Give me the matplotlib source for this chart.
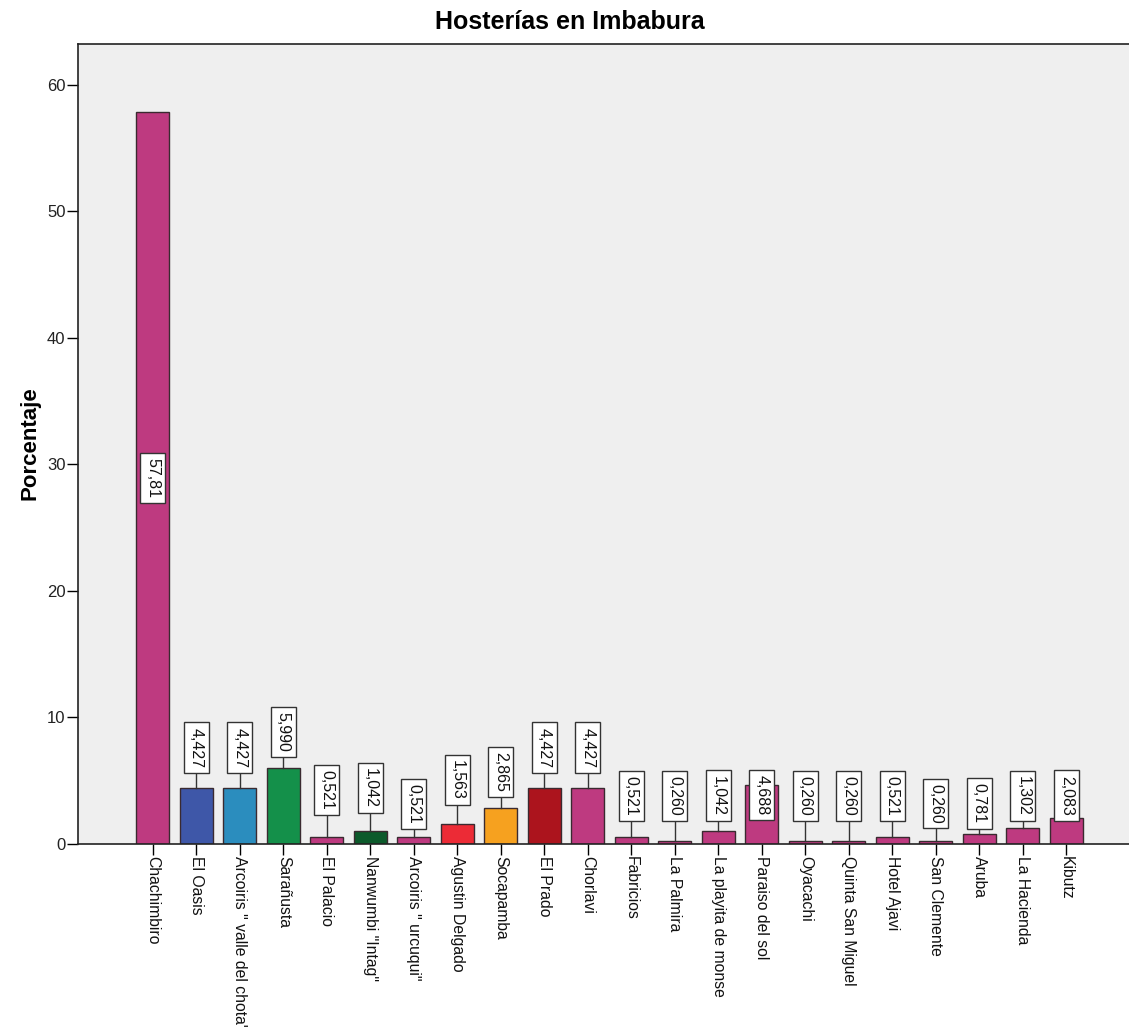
import matplotlib
matplotlib.use("Agg")
import matplotlib.pyplot as plt

plt.rcParams['font.family'] = ['Liberation Sans', 'DejaVu Sans']

# Hosterías y su porcentaje
hosterias = [
    "Chachimbiro", "El Oasis", 'Arcoiris " valle del chota"', "Sarañusta",
    "El Palacio", 'Nanwumbi "Intag"', 'Arcoiris " urcuqui"', "Agustin Delgado",
    "Socapamba", "El Prado", "Chorlavi", "Fabricios", "La Palmira",
    "La playita de monse", "Paraiso del sol", "Oyacachi", "Quinta San Miguel",
    "Hotel Ajavi", "San Clemente", "Aruba", "La Hacienda", "Kibutz",
]
porcentaje = [
    57.81, 4.427, 4.427, 5.990, 0.521, 1.042, 0.521, 1.563, 2.865, 4.427,
    4.427, 0.521, 0.260, 1.042, 4.688, 0.260, 0.260, 0.521, 0.260, 0.781,
    1.302, 2.083,
]
etiquetas = [
    "57,81", "4,427", "4,427", "5,990", "0,521", "1,042", "0,521", "1,563",
    "2,865", "4,427", "4,427", "0,521", "0,260", "1,042", "4,688", "0,260",
    "0,260", "0,521", "0,260", "0,781", "1,302", "2,083",
]

# Altura del centro de cada etiqueta de valor
pos_etiqueta = [
    28.9, 7.62, 7.62, 8.84, 4.26, 4.42, 3.16, 5.05, 5.68, 7.62, 7.62,
    3.83, 3.83, 3.83, 3.87, 3.83, 3.83, 3.83, 3.20, 3.20, 3.83, 3.83,
]

rosa = "#BE3A80"
colores = [
    rosa, "#3E57A8", "#2B8DBE", "#14904A", rosa, "#0C5A2B", rosa, "#EC2B36",
    "#F6A11F", "#AC141D", rosa, rosa, rosa, rosa, rosa, rosa, rosa, rosa,
    rosa, rosa, rosa, rosa,
]

fig = plt.figure(figsize=(11.29, 10.28), dpi=100)
ax = fig.add_axes([78 / 1129, 184 / 1028, 1 - 78 / 1129, 800 / 1028])
ax.set_facecolor("#EFEFEF")

x = list(range(len(hosterias)))
ax.bar(x, porcentaje, width=0.76, color=colores, edgecolor="#3a2a30",
       linewidth=1.0, zorder=2)

for xi, v, txt, yl in zip(x, porcentaje, etiquetas, pos_etiqueta):
    if yl > v:
        ax.plot([xi, xi], [v, yl], color="#333333", lw=1.0, zorder=3)
    ax.text(xi, yl, txt, rotation=-90, ha="center", va="center",
            fontsize=11.5, color="#111111", zorder=4,
            bbox=dict(boxstyle="square,pad=0.32", facecolor="white",
                      edgecolor="#333333", linewidth=1.0))

ax.set_xlim(-1.72, 22.44)
ax.set_ylim(0, 63.2)
ax.set_yticks([0, 10, 20, 30, 40, 50, 60])
ax.set_xticks(x)
ax.set_xticklabels(hosterias, rotation=-90, ha="center", va="top",
                   fontsize=11.3, color="#111111")
ax.tick_params(axis="x", direction="out", length=8, width=1, pad=1)
ax.tick_params(axis="y", direction="out", length=8, width=1, pad=1,
               labelsize=12, labelcolor="#222222")

for side in ("left", "top", "bottom"):
    ax.spines[side].set_color("#222222")
    ax.spines[side].set_linewidth(1.2)
ax.spines["right"].set_visible(False)

fig.text(30 / 1129, 1 - 443 / 1028, "Porcentaje", rotation=90, ha="center",
         va="center", fontsize=16, fontweight="bold")
fig.text(570 / 1129, 1 - 22 / 1028, "Hosterías en Imbabura", ha="center",
         va="center", fontsize=18, fontweight="bold")

fig.savefig("out.png", dpi=100)
